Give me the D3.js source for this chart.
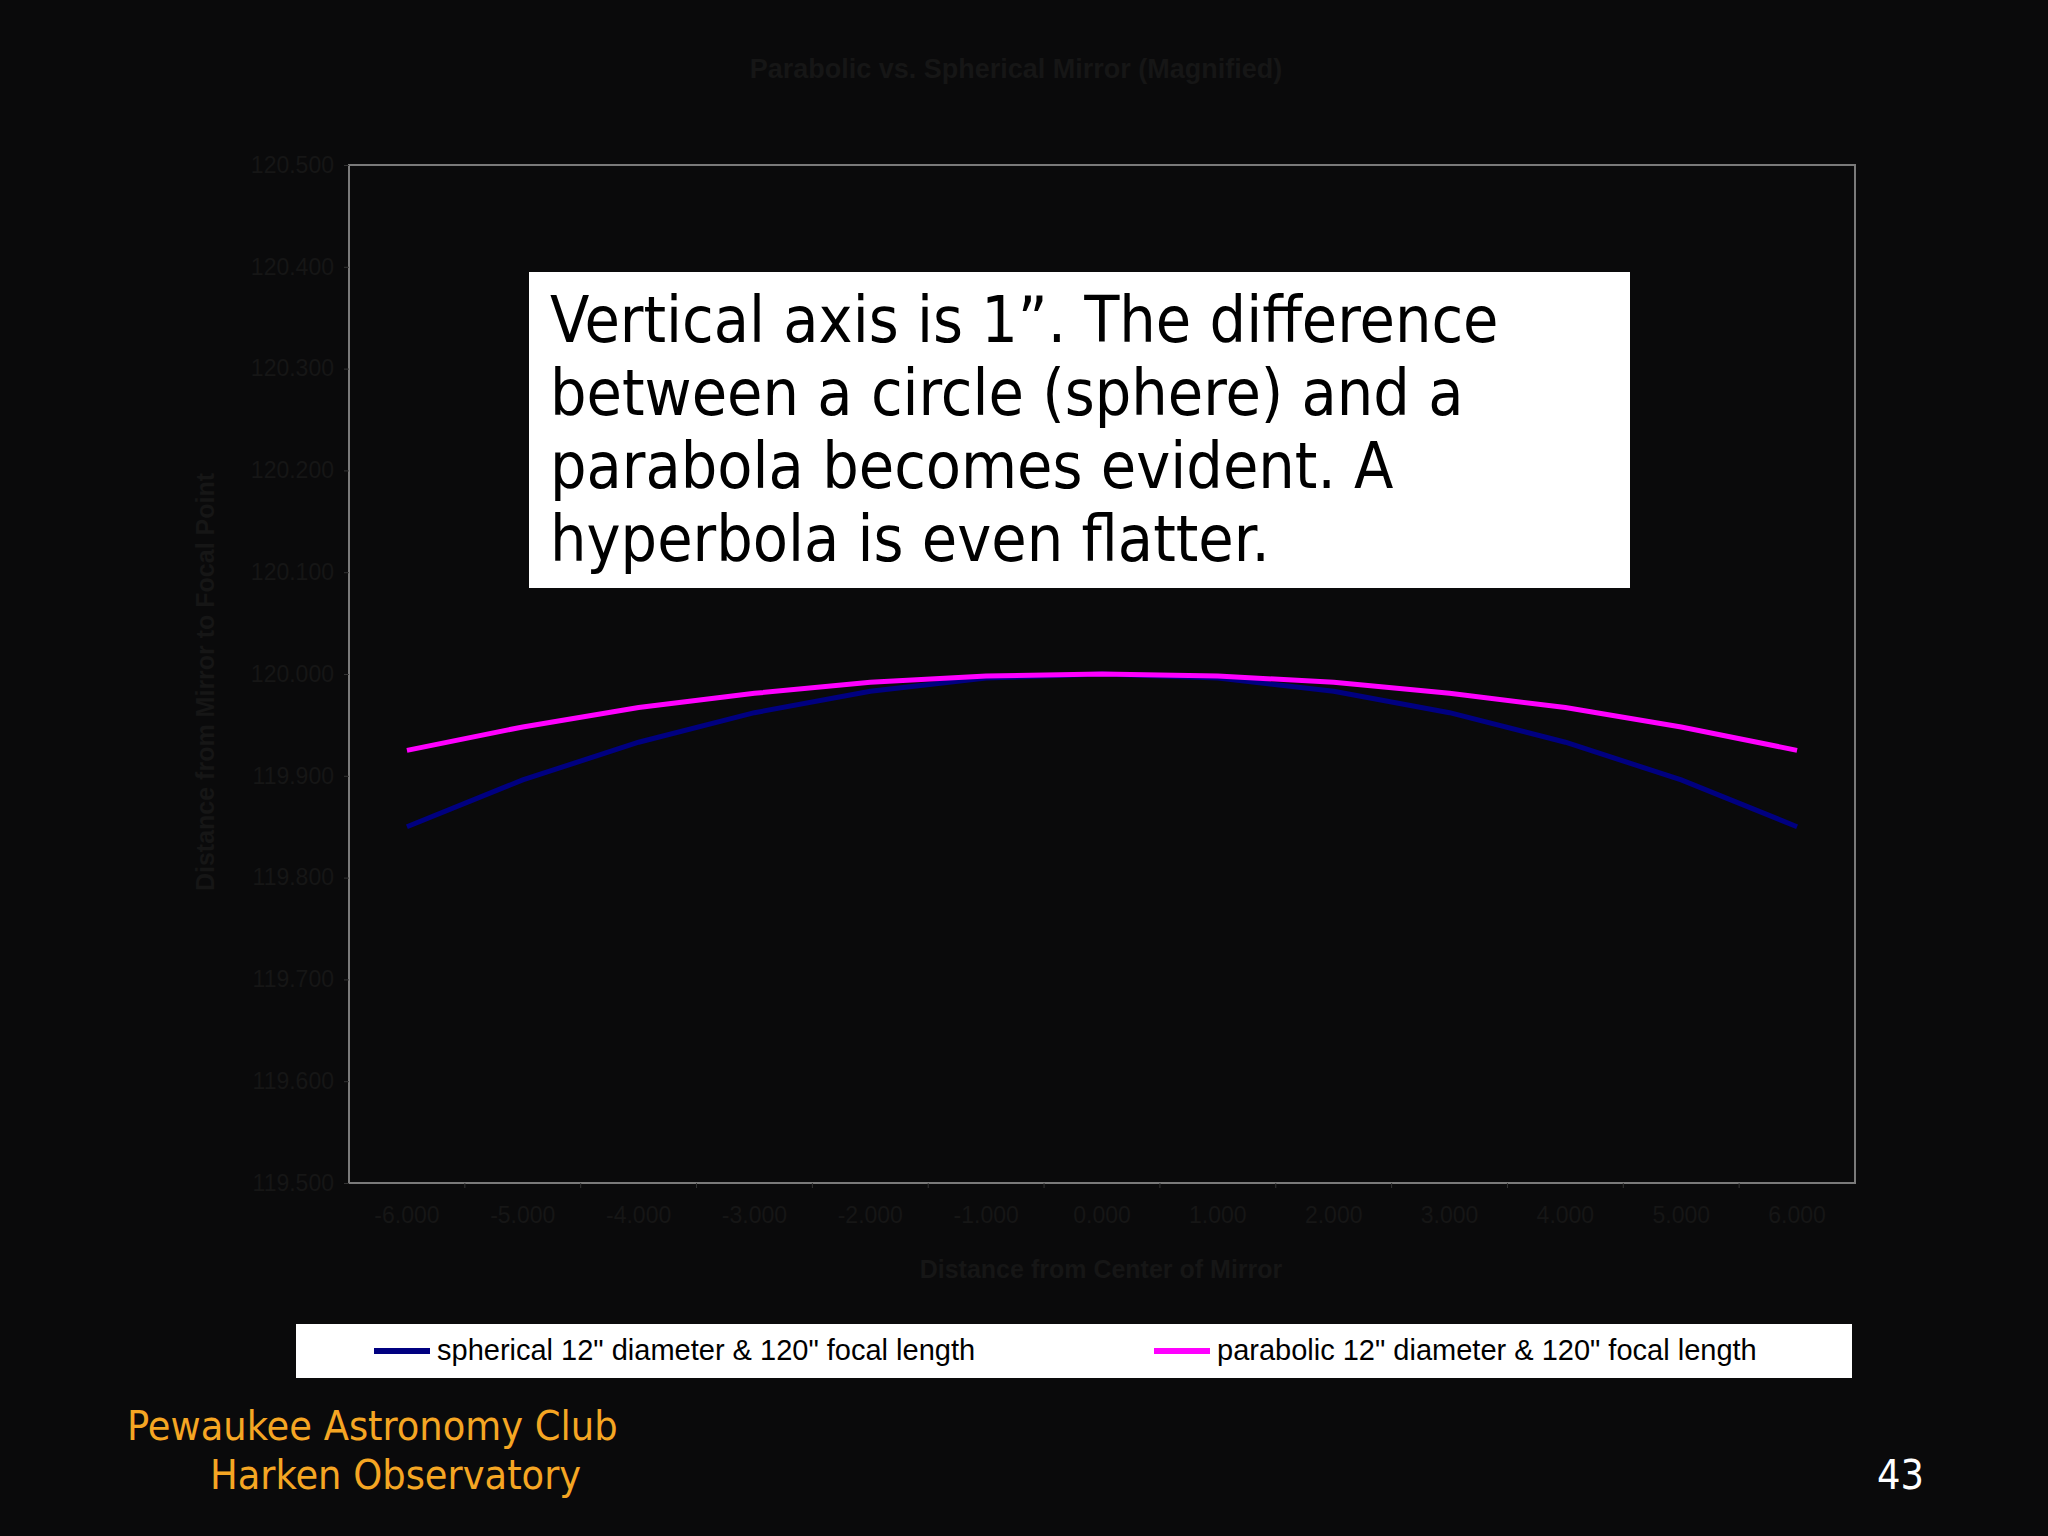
<!DOCTYPE html>
<head>
  <meta charset="utf-8">
  <script src="https://d3js.org/d3.v7.min.js"></script>
  <style>
    body { margin:0; background:#0a0a0b; }
    svg { background:#0a0a0b; display:block; }
    .dim { fill:#161616; font-family:"Liberation Sans", Arial, sans-serif; }
  </style>
</head>
<body>
<script>
    // values
    var xs = [-6, -5, -4, -3, -2, -1, 0, 1, 2, 3, 4, 5, 6];
    var xLabels = ["-6.000","-5.000","-4.000","-3.000","-2.000","-1.000","0.000","1.000","2.000","3.000","4.000","5.000","6.000"];
    var spherical = [119.850, 119.896, 119.933, 119.962, 119.983, 119.996, 120.000, 119.996, 119.983, 119.962, 119.933, 119.896, 119.850];
    var parabolic = [119.925, 119.948, 119.967, 119.981, 119.992, 119.998, 120.000, 119.998, 119.992, 119.981, 119.967, 119.948, 119.925];
    var yTicks = [119.5, 119.6, 119.7, 119.8, 119.9, 120.0, 120.1, 120.2, 120.3, 120.4, 120.5];
    var noteLines = ["Vertical axis is 1\u201d.  The difference", "between a circle (sphere) and a", "parabola becomes evident. A", "hyperbola is even flatter."];

    var W = 2048, H = 1536;
    var plot = {left:349, right:1855, top:165, bottom:1183};

    var svg = d3.select("body").append("svg").attr("width", W).attr("height", H);

    var x = d3.scaleBand().domain(xs).range([plot.left, plot.right]);
    var y = d3.scaleLinear().domain([119.5, 120.5]).range([plot.bottom, plot.top]);

    svg.append("text").attr("class","dim").attr("x", 1016).attr("y", 78)
      .attr("text-anchor","middle").attr("font-size", 27).attr("font-weight","bold")
      .text("Parabolic vs. Spherical Mirror (Magnified)");

    svg.append("rect").attr("x", plot.left).attr("y", plot.top)
      .attr("width", plot.right - plot.left).attr("height", plot.bottom - plot.top)
      .attr("fill","#0a0a0b").attr("stroke","#7a7a7a").attr("stroke-width",2);

    // y axis
    var yAxis = svg.append("g").attr("transform","translate(" + plot.left + ",0)")
      .call(d3.axisLeft(y).tickValues(yTicks).tickFormat(d3.format(",.3f")).tickSize(5).tickPadding(10));
    yAxis.select(".domain").remove();
    yAxis.selectAll("line").attr("stroke","#333");
    yAxis.selectAll("text").attr("class","dim").attr("font-size",23).attr("fill","#161616");

    // x axis
    var xAxis = svg.append("g").attr("transform","translate(0," + plot.bottom + ")")
      .call(d3.axisBottom(x).tickFormat(function(d, i){ return xLabels[i]; }).tickSize(0).tickPadding(24));
    xAxis.select(".domain").remove();
    xAxis.selectAll("text").attr("class","dim").attr("font-size",23).attr("fill","#161616");
    svg.append("g").selectAll("line").data(xs.slice(1)).join("line")
      .attr("x1", function(d){ return x(d); }).attr("x2", function(d){ return x(d); })
      .attr("y1", plot.bottom).attr("y2", plot.bottom + 5).attr("stroke","#333");

    svg.append("text").attr("class","dim").attr("x", 1101).attr("y", 1278)
      .attr("text-anchor","middle").attr("font-size",25).attr("font-weight","bold")
      .text("Distance from Center of Mirror");
    svg.append("text").attr("class","dim").attr("transform","translate(214,682) rotate(-90)")
      .attr("text-anchor","middle").attr("font-size",25).attr("font-weight","bold")
      .text("Distance from Mirror to Focal Point");

    var line = d3.line().x(function(d, i){ return x(xs[i]) + x.bandwidth()/2; }).y(function(d){ return y(d); });
    svg.append("path").attr("d", line(spherical)).attr("fill","none").attr("stroke","#000080").attr("stroke-width",5);
    svg.append("path").attr("d", line(parabolic)).attr("fill","none").attr("stroke","#ff00ff").attr("stroke-width",5);

    // note box
    svg.append("rect").attr("x",529).attr("y",272).attr("width",1101).attr("height",316).attr("fill","#fff");
    svg.append("g").selectAll("text").data(noteLines).join("text")
      .attr("x", 550).attr("y", function(d, i){ return 342 + i * 73; })
      .attr("font-family","'DejaVu Sans Condensed', 'DejaVu Sans', sans-serif").attr("font-size",64)
      .attr("fill","#000").text(function(d){ return d; });

    // legend
    svg.append("rect").attr("x",296).attr("y",1324).attr("width",1556).attr("height",54).attr("fill","#fff");
    var legend = [{name:"spherical 12\" diameter & 120\" focal length", color:"#000080", x:374},
                  {name:"parabolic 12\" diameter & 120\" focal length", color:"#ff00ff", x:1154}];
    var lg = svg.append("g").selectAll("g").data(legend).join("g");
    lg.append("line").attr("x1", function(d){ return d.x; }).attr("x2", function(d){ return d.x + 56; })
      .attr("y1",1351).attr("y2",1351).attr("stroke", function(d){ return d.color; }).attr("stroke-width",6);
    lg.append("text").attr("x", function(d){ return d.x + 63; }).attr("y",1360)
      .attr("font-family","'Liberation Sans', Arial, sans-serif").attr("font-size",29).attr("fill","#000")
      .text(function(d){ return d.name; });

    // footer
    var foot = "'DejaVu Sans Condensed', 'DejaVu Sans', sans-serif";
    svg.append("text").attr("x",127).attr("y",1440).attr("font-family",foot).attr("font-size",41).attr("fill","#f5a623").text("Pewaukee Astronomy Club");
    svg.append("text").attr("x",210).attr("y",1489).attr("font-family",foot).attr("font-size",41).attr("fill","#f5a623").text("Harken Observatory");
    svg.append("text").attr("x",1924).attr("y",1489).attr("text-anchor","end").attr("font-family",foot).attr("font-size",41).attr("fill","#fff").text("43");
</script>
</body>
